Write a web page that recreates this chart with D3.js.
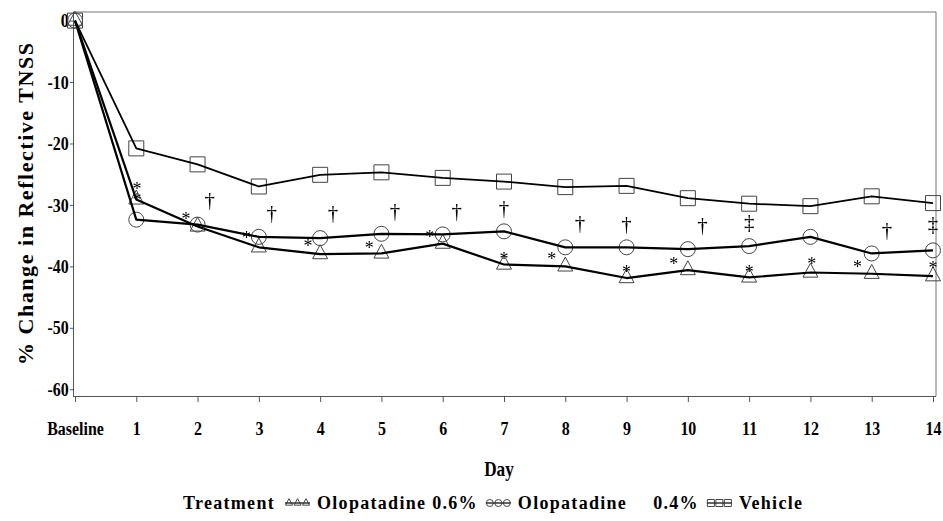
<!DOCTYPE html>
<html><head><meta charset="utf-8">
<script src="https://cdn.jsdelivr.net/npm/d3@7"></script>
<style>body{margin:0;background:#fff}svg{display:block}</style>
</head><body><svg id="c" width="943" height="521"></svg>
<script>
// ---- data ----
const dayLabels = ["Baseline","1","2","3","4","5","6","7","8","9","10","11","12","13","14"];
const olopatadine06 = [0,-29.1,-33.5,-36.9,-38.0,-37.9,-36.3,-39.7,-40.0,-41.9,-40.6,-41.8,-41.0,-41.2,-41.6];
const olopatadine04 = [0,-32.4,-33.2,-35.2,-35.4,-34.7,-34.8,-34.3,-36.9,-36.9,-37.2,-36.7,-35.2,-37.9,-37.4];
const vehicle       = [0,-20.8,-23.4,-27.0,-25.1,-24.7,-25.6,-26.2,-27.1,-26.9,-28.9,-29.8,-30.2,-28.6,-29.7];
const yTicks = [0,-10,-20,-30,-40,-50,-60];
const seriesNames = ["Olopatadine 0.6%","Olopatadine  0.4%","Vehicle"];
// significance marks: day position, value, symbol
const annDay   = [1.01,2.2,1.81,2.8,3.21,3.8,4.21,4.8,5.22,5.79,6.23,7.0,7.0,7.78,8.24,9.0,9.0,9.77,10.24,11.0,11.0,12.02,12.77,13.25,14.0,14.0];
const annValue = [-26.5,-29.3,-31.4,-34.5,-31.4,-35.8,-31.4,-36.0,-31.2,-34.2,-31.2,-30.6,-37.8,-37.8,-33.0,-33.2,-40.0,-38.6,-33.4,-32.9,-39.9,-38.7,-39.1,-34.2,-33.2,-39.4];
const annMark  = ["**","†","*","*","†","*","†","*","†","*","†","†","*","*","†","†","*","*","†","‡","*","*","*","†","‡","*"];

// ---- layout ----
const svg = d3.select("#c");
const L = 73, R = 936, T = 12, B = 396;
const x = d3.scaleLinear().domain([0,14]).range([75,933]);
const y = d3.scaleLinear().domain([-61.1,1.4]).range([B,T]);
const serif = "'Liberation Serif','Times New Roman',serif";
const axisCol = "#555";

// frame
svg.append("path").attr("d",`M${L},${T}H${R}V${B}`).attr("fill","none").attr("stroke","#777").attr("stroke-width",1);

// x axis
const gx = svg.append("g").attr("transform",`translate(0,${B})`)
  .call(d3.axisBottom(x).tickValues(d3.range(15)).tickSize(6).tickPadding(20).tickFormat(i=>dayLabels[i]));
gx.select(".domain").attr("d",`M${L},0.5H${R}`).attr("stroke",axisCol);
gx.selectAll(".tick line").attr("stroke",axisCol);
gx.selectAll(".tick text").attr("font-family",serif).attr("font-weight","bold").attr("font-size",19)
  .attr("fill","#000").attr("transform","scale(0.84,1)");

// y axis
const gy = svg.append("g").attr("transform",`translate(${L},0)`)
  .call(d3.axisLeft(y).tickValues(yTicks).tickSize(3).tickPadding(2).tickFormat(d=>d));
gy.select(".domain").attr("d",`M0.5,${T}V${B}`).attr("stroke",axisCol);
gy.selectAll(".tick line").attr("stroke",axisCol);
gy.selectAll(".tick text").attr("font-family",serif).attr("font-weight","bold").attr("font-size",19)
  .attr("fill","#000").attr("transform","scale(0.84,1)");

// axis titles
svg.append("text").attr("transform","translate(33,204) rotate(-90)").attr("text-anchor","middle")
  .attr("font-family",serif).attr("font-weight","bold").attr("font-size",22)
  .attr("textLength",322).attr("lengthAdjust","spacing").text("% Change in Reflective TNSS");
svg.append("text").attr("transform","translate(499,476) scale(0.82,1)").attr("text-anchor","middle")
  .attr("font-family",serif).attr("font-weight","bold").attr("font-size",21).text("Day");

// marker shapes
const tri = s => { const h=s*0.93; return `M0,${-2*h/3}L${s/2},${h/3}L${-s/2},${h/3}Z`; };
const sq = s => `M${-s/2},${-s/2}h${s}v${s}h${-s}Z`;
const circ = s => `M${s/2},0A${s/2},${s/2} 0 1,1 ${-s/2},0A${s/2},${s/2} 0 1,1 ${s/2},0Z`;
const series = [
  {name:seriesNames[0], vals:olopatadine06, shape:tri, lw:2.2},
  {name:seriesNames[1], vals:olopatadine04, shape:circ, lw:2.2},
  {name:seriesNames[2], vals:vehicle, shape:sq, lw:1.8}
];
const line = d3.line().x((d,i)=>x(i)).y(d=>y(d));
series.forEach(s=>{
  svg.append("g").selectAll("path").data(s.vals).join("path")
    .attr("transform",(d,i)=>`translate(${x(i)},${y(d)})`).attr("d",s.shape(15))
    .attr("fill","none").attr("stroke","#444").attr("stroke-width",1);
  svg.append("path").datum(s.vals).attr("d",line).attr("fill","none").attr("stroke","#000")
    .attr("stroke-width",s.lw).attr("stroke-linejoin","round");
});

// significance marks
const ann = annDay.map((d,i)=>({d, v:annValue[i], m:annMark[i]}));
const at = svg.append("g").style("filter","grayscale(1)").selectAll("text").data(ann).join("text")
  .attr("transform",a=>`translate(${x(a.d)},${y(a.v)}) scale(0.95,1)`).attr("text-anchor","middle")
  .attr("font-family",serif).attr("font-size",a=>a.m[0]==="*"?19:22).attr("fill","#000");
at.each(function(a){
  const t = d3.select(this);
  const dy = a.m[0]==="*" ? 0.62 : 0.28;
  [...a.m].forEach((ch,k)=>t.append("tspan").attr("x",0).attr("dy",k===0?dy+"em":"0.55em").text(ch));
});

// legend
const lg = svg.append("g").attr("font-family",serif).attr("font-weight","bold").attr("font-size",18)
  .attr("letter-spacing",1.3);
let cx = 183; const ly = 509;
const t0 = lg.append("text").attr("x",cx).attr("y",ly).text("Treatment");
cx += t0.node().getComputedTextLength() + 10;
series.forEach(s=>{
  const g = lg.append("g").attr("transform",`translate(${cx},${ly-6})`);
  g.append("line").attr("x1",0).attr("x2",25).attr("stroke","#000").attr("stroke-width",1.2);
  [4,12.5,21].forEach(px=>g.append("path").attr("transform",`translate(${px},0)`).attr("d",s.shape(7))
    .attr("fill","none").attr("stroke","#333").attr("stroke-width",0.9));
  cx += 32;
  s.name.split("  ").forEach((part,k,arr)=>{
    const t = lg.append("text").attr("x",cx).attr("y",ly).text(part);
    cx += t.node().getComputedTextLength() + (k<arr.length-1 ? 26 : 8);
  });
});
</script></body></html>
